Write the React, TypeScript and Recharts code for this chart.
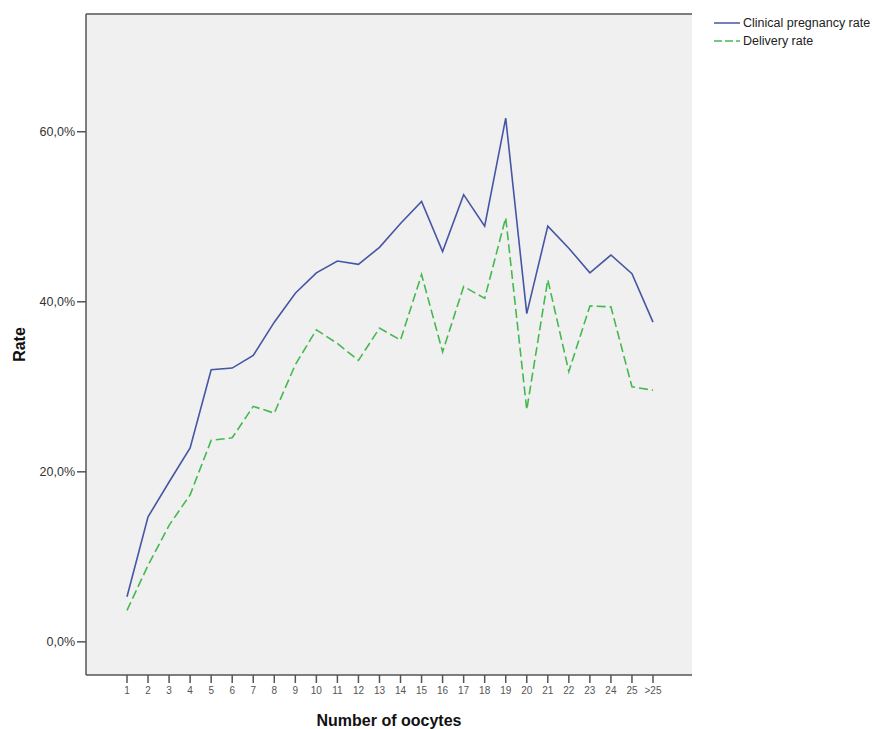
import { CartesianGrid, Line, LineChart, XAxis, YAxis } from "recharts"

const categories = ["1", "2", "3", "4", "5", "6", "7", "8", "9", "10", "11", "12", "13", "14", "15", "16", "17", "18", "19", "20", "21", "22", "23", "24", "25", ">25"]

const clinicalPregnancy = [5.3, 14.7, 18.8, 22.8, 32.0, 32.2, 33.7, 37.6, 41.0, 43.4, 44.8, 44.4, 46.4, 49.2, 51.8, 45.9, 52.6, 48.9, 61.6, 38.6, 48.9, 46.3, 43.4, 45.5, 43.3, 37.6]

const deliveryRate = [3.7, 9.0, 13.7, 17.3, 23.7, 24.0, 27.7, 26.9, 32.6, 36.7, 35.1, 33.1, 36.9, 35.5, 43.2, 34.1, 41.8, 40.4, 49.9, 27.3, 42.6, 31.8, 39.5, 39.4, 30.0, 29.6]

const yTicks = [0, 20, 40, 60]

const data = categories.map((label, i) => ({
  label,
  clinical: clinicalPregnancy[i],
  delivery: deliveryRate[i],
}))

const BLUE = "#4656a4"
const GREEN = "#45b94f"
const FONT = "'Liberation Sans', Arial, sans-serif"
const AXIS = "#555"

const fmtPct = (v: number) => `${v.toFixed(1).replace(".", ",")}%`

function LegendBox() {
  const items = [
    { name: "Clinical pregnancy rate", color: BLUE, dash: undefined },
    { name: "Delivery rate", color: GREEN, dash: "8 3" },
  ]
  return (
    <div style={{ position: "absolute", top: 14, left: 714, fontFamily: FONT, fontSize: 12.5, color: "#222" }}>
      {items.map((it) => (
        <div key={it.name} style={{ display: "flex", alignItems: "center", height: 18 }}>
          <svg width={26} height={6} style={{ marginRight: 3 }}>
            <line x1={0} y1={3} x2={26} y2={3} stroke={it.color} strokeWidth={1.5} strokeDasharray={it.dash} />
          </svg>
          <span>{it.name}</span>
        </div>
      ))}
    </div>
  )
}

export default function App() {
  return (
    <div style={{ position: "absolute", left: 0, top: 0, width: 891, height: 729, background: "#fff" }}>
      <LineChart width={891} height={729} data={data} margin={{ top: 13, right: 199, left: 0, bottom: 0 }}>
        <CartesianGrid fill="#f0f0f0" horizontal={false} vertical={false} />
        <XAxis
          dataKey="label"
          height={54}
          padding={{ left: 41, right: 39 }}
          interval={0}
          tickSize={8}
          tickMargin={4}
          tickLine={{ stroke: AXIS, strokeWidth: 1.5 }}
          axisLine={{ stroke: AXIS, strokeWidth: 1.5 }}
          tick={{ fontSize: 10, fill: "#555", fontFamily: FONT }}
          label={{
            value: "Number of oocytes",
            position: "insideBottom",
            offset: 3,
            style: { fontSize: 16, fontWeight: "bold", fill: "#111", fontFamily: FONT },
          }}
        />
        <XAxis xAxisId="top" orientation="top" dataKey="label" height={1} tick={false} tickLine={false} axisLine={{ stroke: AXIS, strokeWidth: 1.5 }} />
        <YAxis
          width={86}
          domain={[-3.9, 73.85]}
          ticks={yTicks}
          allowDataOverflow
          tickFormatter={fmtPct}
          tickSize={9}
          tickMargin={2}
          tickLine={{ stroke: AXIS, strokeWidth: 1.5 }}
          axisLine={{ stroke: AXIS, strokeWidth: 1.5 }}
          tick={{ fontSize: 12.5, fill: "#333", fontFamily: FONT }}
          label={(props: any) => {
            const vb = props.viewBox || {}
            const cx = 19
            const cy = (vb.y ?? 0) + (vb.height ?? 0) / 2
            return (
              <text
                x={cx}
                y={cy}
                transform={`rotate(-90 ${cx} ${cy})`}
                textAnchor="middle"
                dominantBaseline="central"
                style={{ fontSize: 16, fontWeight: "bold", fill: "#111", fontFamily: FONT }}
              >
                Rate
              </text>
            )
          }}
        />
        <YAxis yAxisId="right" orientation="right" width={0} domain={[-3.9, 73.85]} tick={false} tickLine={false} axisLine={{ stroke: AXIS, strokeWidth: 1.5 }} />
        <Line
          type="linear"
          dataKey="clinical"
          name="Clinical pregnancy rate"
          stroke={BLUE}
          strokeWidth={1.6}
          dot={false}
          activeDot={false}
          isAnimationActive={false}
        />
        <Line
          type="linear"
          dataKey="delivery"
          name="Delivery rate"
          stroke={GREEN}
          strokeWidth={1.6}
          strokeDasharray="9 4"
          dot={false}
          activeDot={false}
          isAnimationActive={false}
        />
      </LineChart>
      <LegendBox />
    </div>
  )
}
